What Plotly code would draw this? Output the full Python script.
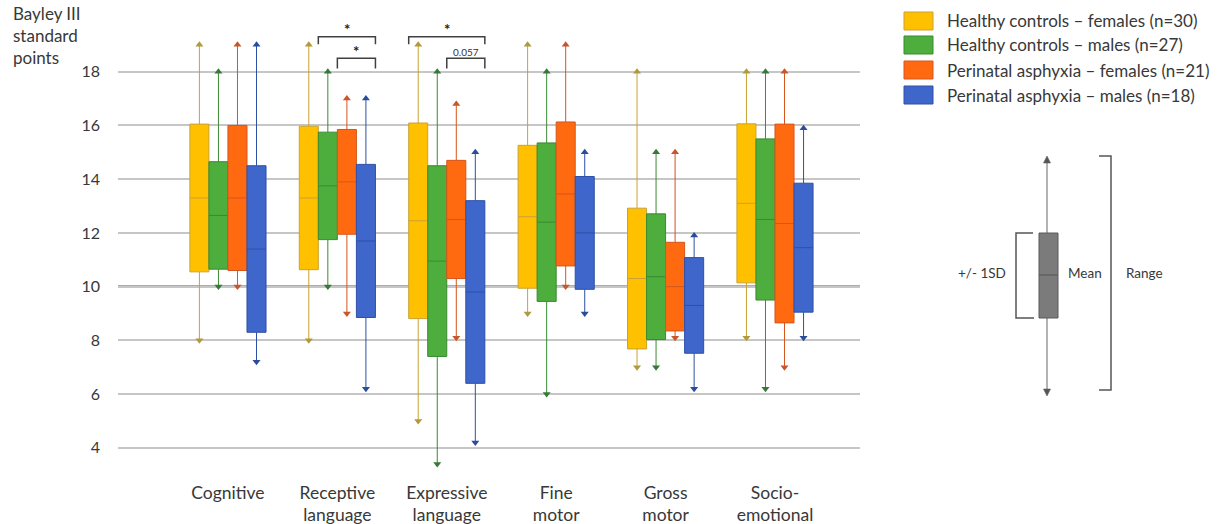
import plotly.graph_objects as go

# ---------------- data ----------------
categories = ["Cognitive", "Receptive<br>language", "Expressive<br>language",
              "Fine<br>motor", "Gross<br>motor", "Socio-<br>emotional"]
series_names = ["Healthy controls – females (n=30)",
                "Healthy controls – males (n=27)",
                "Perinatal asphyxia – females (n=21)",
                "Perinatal asphyxia – males (n=18)"]

hc_f_mean = [13.3, 13.3, 12.45, 12.6, 10.3, 13.1]
hc_f_sd   = [2.75, 2.67, 3.64, 2.66, 2.62, 2.96]
hc_f_min  = [8.0, 8.0, 5.0, 9.0, 7.0, 8.1]
hc_f_max  = [19.0, 19.0, 19.0, 19.0, 18.0, 18.0]

hc_m_mean = [12.65, 13.75, 10.95, 12.4, 10.37, 12.5]
hc_m_sd   = [2.0, 2.0, 3.55, 2.95, 2.34, 3.0]
hc_m_min  = [10.0, 10.0, 3.4, 6.0, 7.0, 6.2]
hc_m_max  = [18.0, 18.0, 18.0, 18.0, 15.0, 18.0]

pa_f_mean = [13.3, 13.9, 12.5, 13.45, 10.0, 12.35]
pa_f_sd   = [2.7, 1.95, 2.2, 2.68, 1.65, 3.7]
pa_f_min  = [10.0, 9.0, 8.1, 10.0, 8.1, 7.0]
pa_f_max  = [19.0, 17.0, 16.8, 19.0, 15.0, 18.0]

pa_m_mean = [11.4, 11.7, 9.8, 12.0, 9.3, 11.45]
pa_m_sd   = [3.1, 2.85, 3.4, 2.1, 1.78, 2.4]
pa_m_min  = [7.2, 6.2, 4.2, 9.0, 6.2, 8.1]
pa_m_max  = [19.0, 17.0, 15.0, 15.0, 11.9, 15.9]

y_tick_values = [4, 6, 8, 10, 12, 14, 16, 18]
y_tick_labels = ["4", "6", "8", "10", "12", "14", "16", "18"]

# significance brackets: (category index, from series, to series, label, level)
brackets = [(1, 1, 3, "*", "upper"), (1, 2, 3, "*", "lower"),
            (2, 0, 3, "*", "upper"), (2, 2, 3, "0.057", "lower")]

# ---------------- styles ----------------
fills  = ["#FFC000", "#4DAD3D", "#FF6A10", "#3F66CA"]
lines  = ["#C9A233", "#3A8A31", "#D4561C", "#2E50A6"]
arrows = ["#B09A3C", "#37793A", "#C8562A", "#2B4C9C"]
FONT = "Lato, Carlito, 'Open Sans', sans-serif"
TXT = "#383838"

series = [
    (hc_f_mean, hc_f_sd, hc_f_min, hc_f_max),
    (hc_m_mean, hc_m_sd, hc_m_min, hc_m_max),
    (pa_f_mean, pa_f_sd, pa_f_min, pa_f_max),
    (pa_m_mean, pa_m_sd, pa_m_min, pa_m_max),
]

BW = 0.174
offsets = [-1.5, -0.5, 0.5, 1.5]

L, R, T, B = 118, 860, 18, 476
W_PX, H_PX = 1227, 524


def PX(x):
    return (x - L) / (R - L)


def PY(y):
    return (B - y) / (B - T)


fig = go.Figure()
for k, (mean, sd, mn, mx) in enumerate(series):
    xs = [i + offsets[k] * BW for i in range(len(categories))]
    q1 = [m - s for m, s in zip(mean, sd)]
    q3 = [m + s for m, s in zip(mean, sd)]
    fig.add_trace(go.Box(
        x=xs, q1=q1, median=mean, q3=q3, lowerfence=mn, upperfence=mx,
        width=BW, fillcolor=fills[k], line=dict(color=lines[k], width=1),
        whiskerwidth=0, boxpoints=False, name=series_names[k],
        showlegend=False, hoverinfo="skip"))
    fig.add_trace(go.Scatter(
        x=xs, y=mx, mode="markers", showlegend=False, hoverinfo="skip",
        marker=dict(symbol="triangle-up", size=7, color=arrows[k])))
    fig.add_trace(go.Scatter(
        x=xs, y=mn, mode="markers", showlegend=False, hoverinfo="skip",
        marker=dict(symbol="triangle-down", size=7, color=arrows[k])))

shapes = []
annotations = []

# reference line at 10
shapes.append(dict(type="line", xref="paper", yref="y", x0=0, x1=1, y0=10, y1=10,
                   line=dict(color="#5a5a5a", width=2), layer="below"))

# significance brackets
levels = {"upper": (19.3, 19.02, 19.6), "lower": (18.5, 18.12, 18.78)}
for cat, a, b, lab, lev in brackets:
    ytop, yend, ytxt = levels[lev]
    x0 = cat + offsets[a] * BW - BW / 2
    x1 = cat + offsets[b] * BW + BW / 2
    shapes.append(dict(type="path", xref="x", yref="y",
                       path=f"M {x0},{yend} L {x0},{ytop} L {x1},{ytop} L {x1},{yend}",
                       line=dict(color="#404040", width=1.5)))
    if lab == "*":
        annotations.append(dict(x=(x0 + x1) / 2, y=ytxt, xref="x", yref="y", text="<b>*</b>",
                                showarrow=False, font=dict(size=15, color="#222", family=FONT)))
    else:
        annotations.append(dict(x=(x0 + x1) / 2, y=ytxt - 0.05, xref="x", yref="y", text=lab,
                                showarrow=False, font=dict(size=10, color="#333", family=FONT)))

# legend (manual)
leg_rows = [21, 45, 70, 95]
for k, yc in enumerate(leg_rows):
    shapes.append(dict(type="rect", xref="paper", yref="paper",
                       x0=PX(904), x1=PX(933), y0=PY(yc + 9), y1=PY(yc - 9),
                       fillcolor=fills[k], line=dict(color=lines[k], width=1)))
    annotations.append(dict(x=PX(945), y=PY(yc), xref="paper", yref="paper",
                            xanchor="left", yanchor="middle", showarrow=False,
                            text=series_names[k], font=dict(size=17, color=TXT, family=FONT)))

# key diagram
shapes += [
    dict(type="line", xref="paper", yref="paper", x0=PX(1047), x1=PX(1047), y0=PY(160), y1=PY(392),
         line=dict(color="#8a8a8a", width=1.3)),
    dict(type="path", xref="paper", yref="paper",
         path=f"M {PX(1047)},{PY(156)} L {PX(1043.5)},{PY(163)} L {PX(1050.5)},{PY(163)} Z",
         fillcolor="#555", line=dict(color="#555", width=0.5)),
    dict(type="path", xref="paper", yref="paper",
         path=f"M {PX(1047)},{PY(396)} L {PX(1043.5)},{PY(389)} L {PX(1050.5)},{PY(389)} Z",
         fillcolor="#555", line=dict(color="#555", width=0.5)),
    dict(type="rect", xref="paper", yref="paper", x0=PX(1039), x1=PX(1058), y0=PY(318), y1=PY(233),
         fillcolor="#7b7b7b", line=dict(color="#5a5a5a", width=1)),
    dict(type="line", xref="paper", yref="paper", x0=PX(1039), x1=PX(1058), y0=PY(275), y1=PY(275),
         line=dict(color="#555", width=1)),
    dict(type="path", xref="paper", yref="paper",
         path=f"M {PX(1033)},{PY(233)} L {PX(1016)},{PY(233)} L {PX(1016)},{PY(318)} L {PX(1034)},{PY(318)}",
         line=dict(color="#555", width=1.5)),
    dict(type="path", xref="paper", yref="paper",
         path=f"M {PX(1099)},{PY(156)} L {PX(1111)},{PY(156)} L {PX(1111)},{PY(390)} L {PX(1099)},{PY(390)}",
         line=dict(color="#555", width=1.5)),
]
for txt, xc in [("+/- 1SD", 982), ("Mean", 1085), ("Range", 1144)]:
    annotations.append(dict(x=PX(xc), y=PY(273), xref="paper", yref="paper", text=txt,
                            showarrow=False, xanchor="center", yanchor="middle",
                            font=dict(size=13.5, color=TXT, family=FONT)))

# y-axis title
for txt, yc in [("Bayley III", 14), ("standard", 36), ("points", 57)]:
    annotations.append(dict(x=PX(11), y=PY(yc), xref="paper", yref="paper", text=txt,
                            showarrow=False, xanchor="left", yanchor="middle",
                            font=dict(size=17, color=TXT, family=FONT)))

fig.update_layout(
    width=W_PX, height=H_PX,
    margin=dict(l=L, r=W_PX - R, t=T, b=H_PX - B, pad=0, autoexpand=False),
    paper_bgcolor="white", plot_bgcolor="white",
    boxmode="overlay",
    shapes=shapes, annotations=annotations,
    showlegend=False,
    xaxis=dict(range=[-1.005, 5.777], tickmode="array", automargin=False,
               tickvals=list(range(len(categories))), ticktext=categories,
               showgrid=False, zeroline=False, showline=False, ticks="",
               ticklabelstandoff=4,
               tickfont=dict(size=17.5, color=TXT, family=FONT)),
    yaxis=dict(range=[2.95, 20.0], tickmode="array", tickvals=y_tick_values, automargin=False,
               ticktext=y_tick_labels, showgrid=True, gridcolor="#c6c6c6", gridwidth=1.5,
               zeroline=False, showline=False, ticks="", ticklabelstandoff=17,
               tickfont=dict(size=16, color=TXT, family=FONT)),
)

fig.write_html("out.html", config={"displayModeBar": False},
               post_script="document.body.style.margin='0';document.body.style.padding='0';")
